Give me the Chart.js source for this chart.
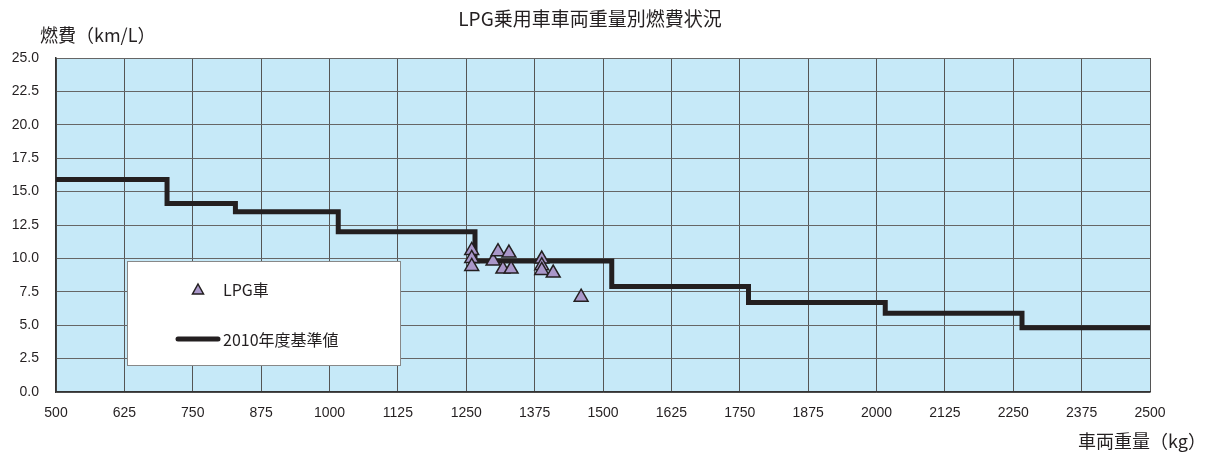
<!DOCTYPE html>
<html>
<head>
<meta charset="utf-8">
<script src="https://cdn.jsdelivr.net/npm/chart.js@4"></script>
<style>
  html, body { margin: 0; padding: 0; background: #fff; }
  #wrap { width: 1212px; height: 456px; }
</style>
</head>
<body>
<div id="wrap"><canvas id="fuel"></canvas></div>
<script>
const chartTitle = 'LPG乗用車車両重量別燃費状況';
const yTitle = '燃費（km/L）';
const xTitle = '車両重量（kg）';

// 2010年度基準値 (step: weight class start -> km/L)
const stdWeights = [500, 703, 828, 1016, 1266, 1516, 1766, 2016, 2266, 2500];
const stdValues = [15.9, 14.1, 13.5, 12.0, 9.8, 7.9, 6.7, 5.9, 4.8, 4.8];

// LPG車
const lpgWeights = [1260, 1260, 1260, 1299, 1308, 1317, 1328, 1332, 1388, 1388, 1388, 1409, 1460];
const lpgValues = [10.6, 10.0, 9.4, 9.8, 10.5, 9.2, 10.4, 9.2, 9.95, 9.45, 9.1, 8.9, 7.1];

const xMin = 500, xMax = 2500, xStep = 125;
const yMin = 0, yMax = 25, yStep = 2.5;

const lineColor = '#231f20';
const markColor = '#a997c9';
const plotBg = '#c6e9f8';
const cjk = '"Noto Sans CJK JP", "Noto Sans", sans-serif';
const latin = '"Liberation Sans", Arial, sans-serif';

const plotBackground = {
  id: 'plotBackground',
  beforeDraw(chart) {
    const { ctx, chartArea: a } = chart;
    ctx.save();
    ctx.fillStyle = plotBg;
    ctx.fillRect(a.left, a.top, a.right - a.left, a.bottom - a.top);
    ctx.restore();
  }
};

const texts = {
  id: 'texts',
  afterDraw(chart) {
    const { ctx } = chart;
    ctx.save();
    ctx.fillStyle = '#231f20';
    ctx.textBaseline = 'middle';
    ctx.font = '19px ' + cjk;
    ctx.textAlign = 'center';
    ctx.fillText(chartTitle, 590, 19);
    ctx.font = '18px ' + cjk;
    ctx.textAlign = 'left';
    ctx.fillText(yTitle, 40, 35);
    ctx.textAlign = 'right';
    ctx.fillText(xTitle, 1206, 441);
    ctx.restore();
  }
};

// legend box drawn inside the plot like the original
const boxLegend = {
  id: 'boxLegend',
  afterDatasetsDraw(chart) {
    const { ctx, chartArea: a } = chart;
    const x0 = a.left + 71, y0 = a.top + 203, w = 273, h = 104;
    ctx.save();
    ctx.fillStyle = '#fff';
    ctx.fillRect(x0, y0, w, h);
    ctx.strokeStyle = '#888';
    ctx.lineWidth = 1;
    ctx.strokeRect(x0 + 0.5, y0 + 0.5, w, h);

    const ds = chart.data.datasets;
    // triangle item
    ctx.fillStyle = markColor;
    ctx.strokeStyle = lineColor;
    ctx.lineWidth = 1.5;
    const tx = x0 + 71, ty = y0 + 29;
    ctx.beginPath();
    ctx.moveTo(tx, ty - 6);
    ctx.lineTo(tx + 5.5, ty + 4);
    ctx.lineTo(tx - 5.5, ty + 4);
    ctx.closePath();
    ctx.fill();
    ctx.stroke();
    // line item
    ctx.lineWidth = 5;
    ctx.lineCap = 'round';
    ctx.beginPath();
    ctx.moveTo(x0 + 51, y0 + 78);
    ctx.lineTo(x0 + 91, y0 + 78);
    ctx.stroke();

    ctx.fillStyle = '#231f20';
    ctx.font = '16px ' + cjk;
    ctx.textAlign = 'left';
    ctx.textBaseline = 'middle';
    ctx.fillText(ds[0].label, x0 + 96, ty);
    ctx.fillText(ds[1].label, x0 + 96, y0 + 79);
    ctx.restore();
  }
};

new Chart(document.getElementById('fuel'), {
  type: 'scatter',
  data: {
    datasets: [{
      label: 'LPG車',
      data: lpgWeights.map((w, i) => ({ x: w, y: lpgValues[i] })),
      pointStyle: 'triangle',
      pointRadius: 8,
      backgroundColor: markColor,
      borderColor: lineColor,
      borderWidth: 1.5,
      order: 0
    }, {
      label: '2010年度基準値',
      type: 'line',
      data: stdWeights.map((w, i) => ({ x: w, y: stdValues[i] })),
      stepped: 'before',
      borderColor: lineColor,
      borderWidth: 5,
      pointRadius: 0,
      fill: false,
      order: 1
    }]
  },
  options: {
    responsive: true,
    maintainAspectRatio: false,
    animation: false,
    layout: { padding: { top: 58, right: 62, left: 0, bottom: 0 } },
    plugins: {
      legend: { display: false },
      tooltip: { enabled: false }
    },
    scales: {
      x: {
        type: 'linear',
        min: xMin, max: xMax,
        ticks: {
          stepSize: xStep,
          padding: 13,
          color: '#231f20',
          font: { family: latin, size: 14 },
          maxRotation: 0,
          callback: v => String(v)
        },
        grid: { color: '#555', lineWidth: 1, drawTicks: false },
        border: { color: '#333', width: 1.5 },
        afterFit(s) { s.height = 64; }
      },
      y: {
        min: yMin, max: yMax,
        ticks: {
          stepSize: yStep,
          padding: 17,
          color: '#231f20',
          font: { family: latin, size: 14 },
          callback: v => v.toFixed(1)
        },
        grid: { color: '#666', lineWidth: 1, drawTicks: false },
        border: { color: '#333', width: 1.5 },
        afterFit(s) { s.width = 56; }
      }
    }
  },
  plugins: [plotBackground, boxLegend, texts]
});
</script>
</body>
</html>
